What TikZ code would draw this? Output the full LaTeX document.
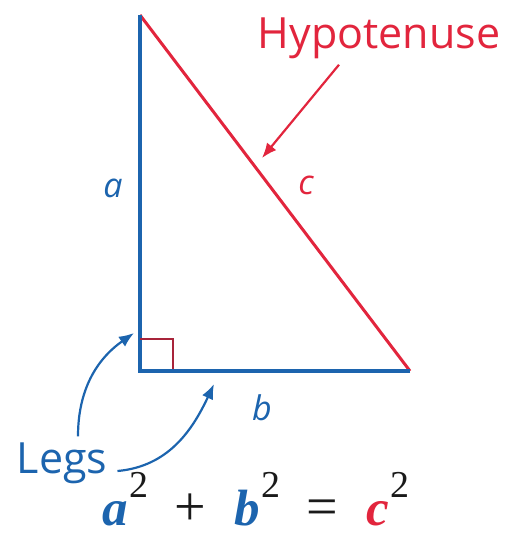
\documentclass[tikz,border=0pt]{standalone}
\usepackage{fontspec}
\setmainfont{Liberation Serif}
\setsansfont{Open Sans}
\usetikzlibrary{arrows.meta,positioning,calc}
\definecolor{ptblue}  {HTML}{1C64AE}
\definecolor{ptred}   {HTML}{E2253D}
\definecolor{ptmaroon}{HTML}{A8243A}
\definecolor{ptink}   {HTML}{1A1A1A}
\tikzset{
  ptleg/.style={draw=ptblue, line width=3.6pt, line join=miter},
  pthyp/.style={draw=ptred, line width=3pt},
  ptsquare/.style={draw=ptmaroon, line width=1.3pt},
  ptword/.style={font=\sffamily\fontsize{43}{47}\selectfont, inner sep=0pt},
  ptside/.style={font=\sffamily\itshape\fontsize{34}{38}\selectfont, inner sep=0pt},
  ptcall/.style={-{Latex[length=15pt,width=12pt]}, line width=2.2pt},
  pteq/.style={font=\fontsize{51}{54}\selectfont, inner sep=0pt, text=ptink},
}
\newcommand{\ptvar}[2]{\textcolor{#1}{\textbf{\textit{#2}}}}
\newcommand{\ptsq}{\hspace{2pt}\raisebox{28pt}{\fontsize{38}{38}\selectfont 2}}
\newcommand{\ptop}[1]{\hspace{26pt}\raisebox{0pt}[\height][0pt]{\fontsize{56}{56}\selectfont #1}\hspace{28pt}}

\begin{document}
\begin{tikzpicture}[x=1pt,y=-1pt]
  \useasboundingbox (0,0) rectangle (513,535);
  \coordinate (top)   at (140,15);
  \coordinate (right) at (140,371);
  \coordinate (far)   at (410,371);
  \draw[pthyp] (top) -- (far);
  \draw[ptleg] (far) -- (right) -- (top);
  \draw[ptsquare] ($(right)+(0,-32)$) -- ++(33,0) -- ++(0,30);
  \node[ptword, text=ptred]  (hyp)  at (379,38)  {Hypotenuse};
  \node[ptside, text=ptblue] (sidea) at (113,188) {a};
  \node[ptside, text=ptblue] (sideb) at (262,408) {b};
  \node[ptside, text=ptred]  (sidec) at (306,185) {c};
  \node[ptword, text=ptblue] (legs) at (62,463)  {Legs};
  \coordinate (hyptip)  at (262,158);
  \coordinate (legatip) at (134,333);
  \coordinate (legbtip) at (214,384);
  \draw[ptcall, draw=ptred] ($(hyp.south)+(-40,6)$) -- (hyptip);
  \draw[ptcall, draw=ptblue] ($(legs.north)+(16,-6)$)
    to[out=90, in=215] (legatip);
  \draw[ptcall, draw=ptblue] ($(legs.east)+(10,8)$)
    to[out=5, in=245] (legbtip);
  \node[pteq, anchor=base] (eq) at (256,525)
    {\ptvar{ptblue}{a}\ptsq\ptop{+}\ptvar{ptblue}{b}\ptsq\ptop{=}\ptvar{ptred}{c}\ptsq};
\end{tikzpicture}
\end{document}
